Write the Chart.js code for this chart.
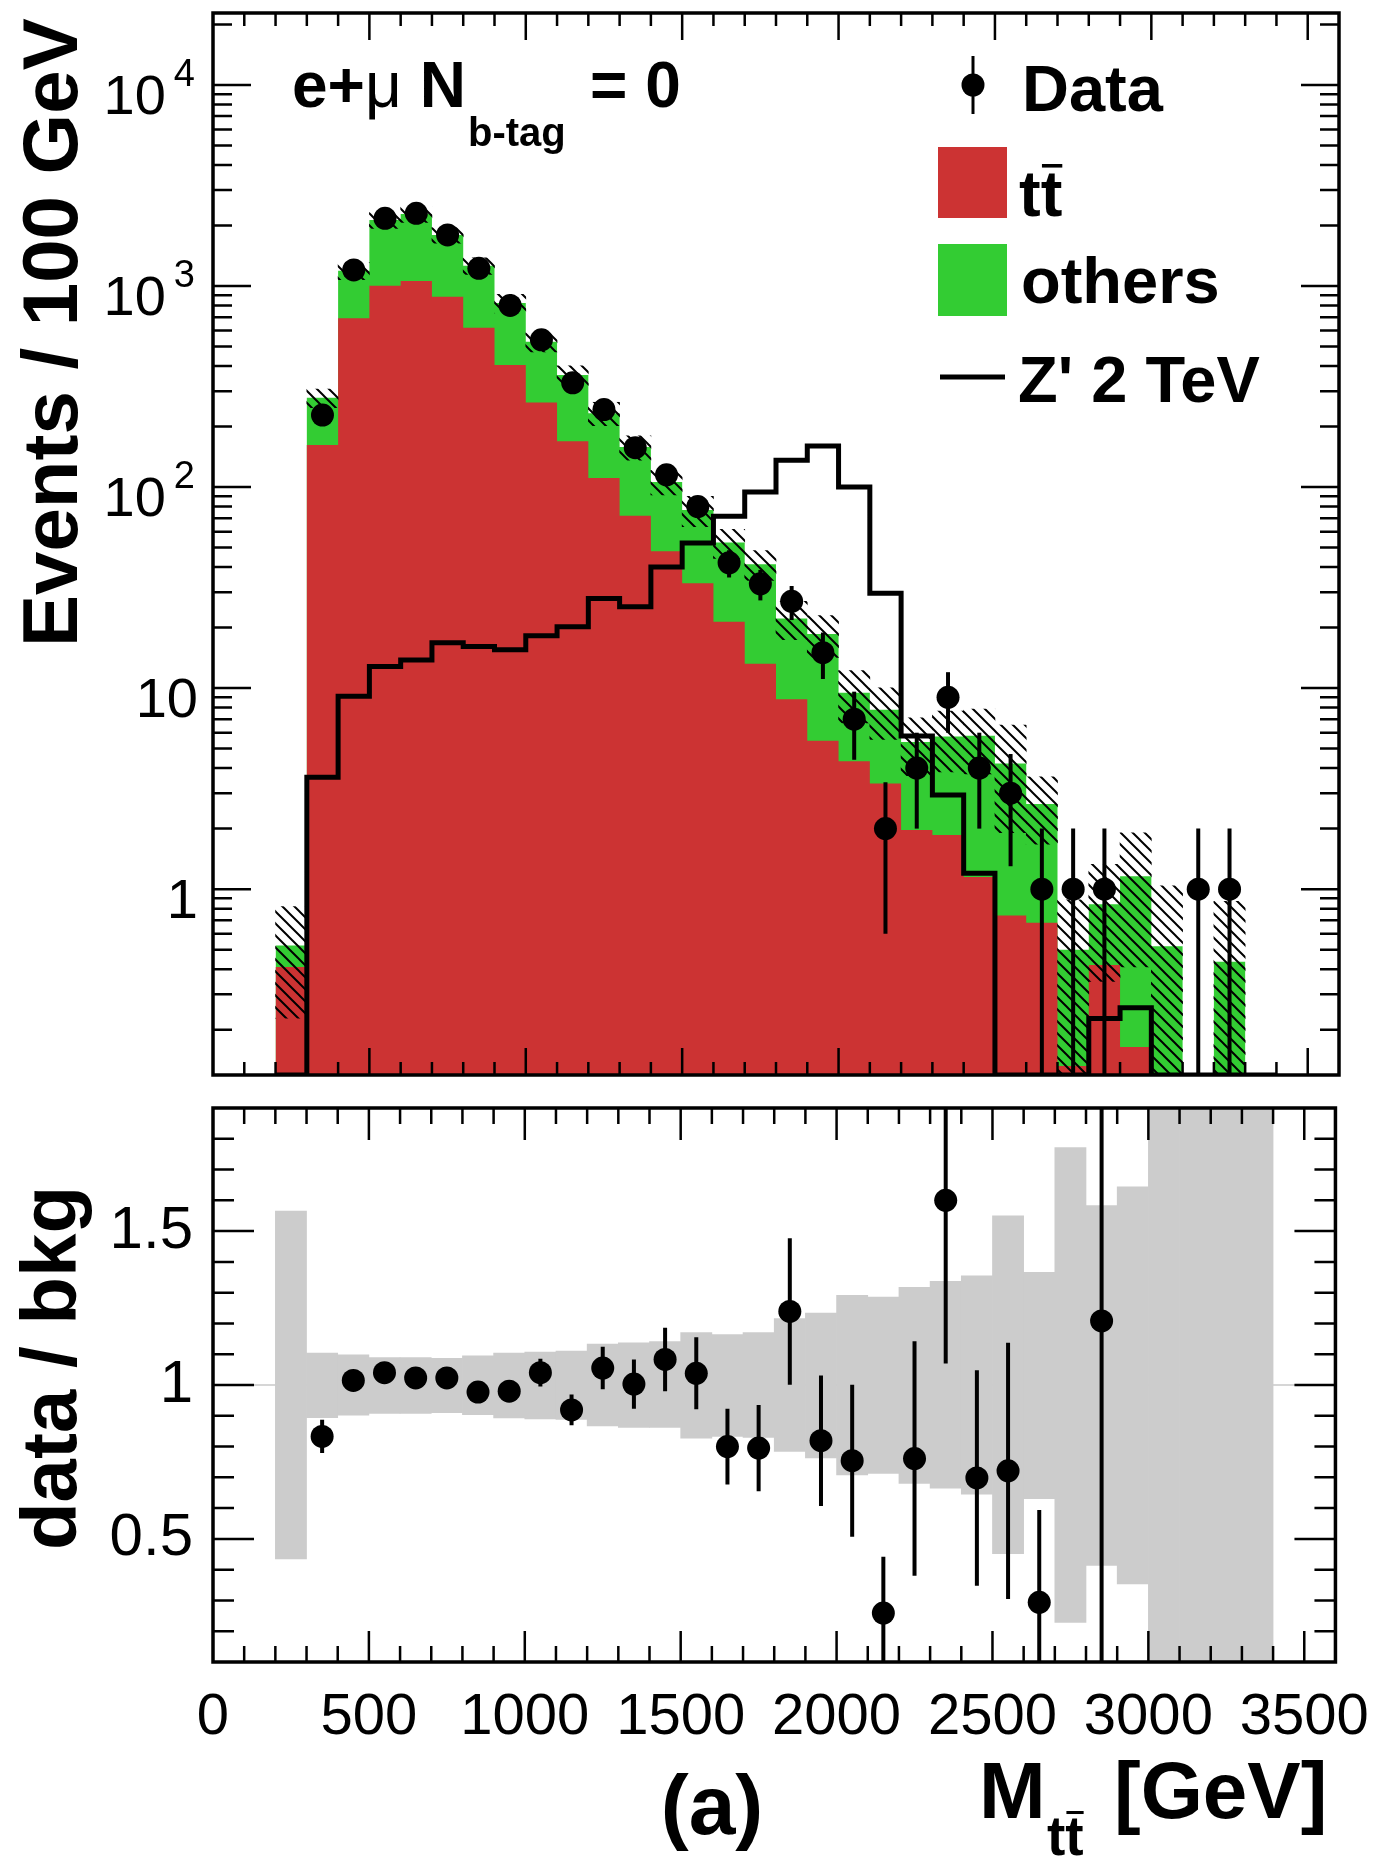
<!DOCTYPE html>
<html>
<head>
<meta charset="utf-8">
<title>Mtt e+mu Nb-tag = 0</title>
<script src="https://cdn.jsdelivr.net/npm/chart.js@4.4.1/dist/chart.umd.min.js"></script>
<style>
  html, body { margin: 0; padding: 0; background: #fff; }
  body { width: 1383px; height: 1861px; position: relative; overflow: hidden; }
  canvas { position: absolute; left: 0; }
  #topChart { top: 0; width: 1383px; height: 1090px; }
  #ratioChart { top: 1060px; width: 1383px; height: 801px; }
</style>
</head>
<body>
<canvas id="topChart" width="1383" height="1090"></canvas>
<canvas id="ratioChart" width="1383" height="801"></canvas>
<script>
const FONT = '"Liberation Sans", Arial, Helvetica, sans-serif';
const RED = '#cc3333', GREEN = '#33cc33', GREY = '#cccccc';

// bins: low edge in GeV, 100 GeV wide
const binLow = [200, 300, 400, 500, 600, 700, 800, 900, 1000, 1100,
                1200, 1300, 1400, 1500, 1600, 1700, 1800, 1900, 2000, 2100,
                2200, 2300, 2400, 2500, 2600, 2700, 2800, 2900, 3000, 3100,
                3200, 3300];
const binWidth = 100;

// events / 100 GeV
const ttbar = [0.41, 162, 691, 1003, 1059, 885, 620, 405, 263, 169,
               111, 72, 48, 33.2, 21.4, 13.2, 8.8, 5.47, 4.33, 3.35,
               1.97, 1.86, 1.15, 0.74, 0.68, 0.132, 0.42, 0.164, 0, 0,
               0, 0];
const bkgTotal = [0.524, 278, 1191, 2130, 2280, 1795, 1262, 823, 528, 361,
                  233, 158, 106, 76.9, 53, 41.3, 22.2, 18.6, 9.48, 7.8,
                  5.4, 5.75, 5.8, 4.22, 2.65, 0.5, 0.84, 1.16, 0.52, 0,
                  0.435, 0];
const zprime = [0, 3.6, 9.1, 12.8, 13.8, 16.8, 16.1, 15.5, 18.2, 20.2,
                27.9, 25.4, 40, 52.7, 71.5, 94.6, 136, 160, 100, 29.6,
                5.77, 2.94, 1.2, 0, 0, 0, 0.227, 0.257, 0, 0,
                0, 0];
const dataCounts = [0, 228, 1202, 2172, 2300, 1795, 1225, 800, 540, 330,
                    243, 157, 115, 80, 42, 33, 27, 15, 7, 2,
                    4, 9, 4, 3, 1, 1, 1, 0, 0, 1,
                    1, 0];
const dataErr = [0, 15, 35, 47, 48, 42, 35, 28, 23, 18,
                 15.6, 12.5, 10.7, 8.9, 6.5, 5.7, 5.2, 3.9, 2.6, 1.4,
                 2, 3, 2, 1.7, 1, 1, 1, 0, 0, 1,
                 1, 0];

// lower panel: data / bkg and relative bkg uncertainty
const ratio = [null, 0.833, 1.015, 1.04, 1.023, 1.023, 0.977, 0.98, 1.04, 0.919,
               1.055, 1.003, 1.083, 1.038, 0.80, 0.795, 1.239, 0.819, 0.754, 0.259,
               0.761, 1.60, 0.698, 0.721, 0.294, null, 1.208, null, null, null,
               null, null];
const ratioErr = [0, 0.054, 0.03, 0.023, 0.022, 0.025, 0.03, 0.035, 0.045, 0.05,
                  0.069, 0.08, 0.103, 0.117, 0.123, 0.14, 0.238, 0.212, 0.247, 0.183,
                  0.381, 0.53, 0.35, 0.416, 0.30, 0, 1.2, 0, 0, 0,
                  0, 0];
const bandHi = [1.565, 1.104, 1.098, 1.089, 1.089, 1.087, 1.095, 1.104, 1.107, 1.110,
                1.133, 1.137, 1.141, 1.170, 1.164, 1.170, 1.216, 1.234, 1.291, 1.286,
                1.317, 1.337, 1.355, 1.550, 1.366, 1.771, 1.583, 1.644, 2, 2,
                2, 2];
const bandLo = [0.435, 0.894, 0.902, 0.908, 0.908, 0.910, 0.904, 0.893, 0.890, 0.888,
                0.867, 0.862, 0.862, 0.827, 0.833, 0.830, 0.784, 0.763, 0.708, 0.713,
                0.680, 0.665, 0.645, 0.452, 0.631, 0.229, 0.414, 0.354, 0, 0,
                0, 0];

const xTickLabels = [0, 500, 1000, 1500, 2000, 2500, 3000, 3500];
const logTickLabels = [1, 10, 100, 1000, 10000];
const ratioTickLabels = [0.5, 1, 1.5];

const X_MIN = 0, X_MAX = 3600;
const Y_MIN = 0.119, Y_MAX = 22800;
const R_MIN = 0.1, R_MAX = 1.9;

Chart.defaults.font.family = FONT;
Chart.defaults.color = '#000';

const centres = binLow.map(x => x + binWidth / 2);

// histogram outline as stepped points; empty bins sit on the lower edge of the log axis
function stepPoints(values) {
  const pts = binLow.map((x, i) => ({ x, y: values[i] > 0 ? values[i] : Y_MIN }));
  pts.push({ x: binLow[binLow.length - 1] + binWidth, y: Y_MIN });
  return pts;
}
function pointsAt(values) {
  return centres.map((x, i) => ({ x, y: values[i] > 0 ? values[i] : null }));
}

function hatchPattern() {
  const c = document.createElement('canvas');
  c.width = c.height = 12;
  const g = c.getContext('2d');
  g.strokeStyle = '#000';
  g.lineWidth = 2;
  g.beginPath();
  g.moveTo(-2, -2); g.lineTo(14, 14);
  g.moveTo(-8, 4); g.lineTo(8, 20);
  g.moveTo(4, -8); g.lineTo(20, 8);
  g.stroke();
  return g.createPattern(c, 'repeat');
}

const hatchBand = centres.map((x, i) => ({
  x,
  y: [Math.max(bkgTotal[i] * bandLo[i], Y_MIN), Math.max(bkgTotal[i] * bandHi[i], Y_MIN)]
}));
const ratioBand = centres.map((x, i) => ({ x, y: [bandLo[i], bandHi[i]] }));

const B = n => `bold ${n}px ${FONT}`;
const R = n => `${n}px ${FONT}`;

function txt(ctx, s, x, y, font, align) {
  ctx.font = font;
  ctx.textAlign = align || 'left';
  ctx.fillText(s, x, y);
  return ctx.measureText(s).width;
}

function overlinedT(ctx, x, y, size) {
  const w = txt(ctx, 't', x, y, B(size));
  ctx.fillRect(x + 0.02 * size, y - 0.8 * size, w - 0.02 * size, 0.055 * size);
  return w;
}

function drawErrorBars(chart, values, errs) {
  const { ctx, chartArea: a, scales: { x, y } } = chart;
  ctx.save();
  ctx.beginPath();
  ctx.rect(a.left, a.top, a.width, a.height);
  ctx.clip();
  ctx.strokeStyle = '#000';
  ctx.lineWidth = 4;
  centres.forEach((c, i) => {
    const v = values[i];
    if (v == null || v <= 0) return;
    const px = x.getPixelForValue(c);
    const top = y.getPixelForValue(v + errs[i]);
    const lo = v - errs[i];
    const bot = lo > 0 ? y.getPixelForValue(lo) : a.bottom;
    ctx.beginPath();
    ctx.moveTo(px, top);
    ctx.lineTo(px, bot);
    ctx.stroke();
  });
  ctx.restore();
}

function seg(ctx, x1, y1, x2, y2) { ctx.moveTo(x1, y1); ctx.lineTo(x2, y2); }

const topDecor = {
  id: 'topDecor',
  beforeDatasetDraw(chart, args) {
    if (chart.data.datasets[args.index].label === 'Data') drawErrorBars(chart, dataCounts, dataErr);
  },
  afterDraw(chart) {
    const { ctx, chartArea: a, scales: { x, y } } = chart;
    ctx.save();
    ctx.strokeStyle = '#000';
    ctx.fillStyle = '#000';

    // ticks on all four sides, pointing in
    ctx.lineWidth = 2.5;
    ctx.beginPath();
    for (let v = 100; v < X_MAX; v += 100) {
      const px = x.getPixelForValue(v);
      const len = v % 500 === 0 ? 27 : 13;
      seg(ctx, px, a.top, px, a.top + len);
      seg(ctx, px, a.bottom, px, a.bottom - len);
    }
    for (let e = -1; e <= 4; e++) {
      for (let m = 1; m <= 9; m++) {
        const v = m * Math.pow(10, e);
        if (v <= Y_MIN || v >= Y_MAX) continue;
        const py = y.getPixelForValue(v);
        const len = m === 1 ? 38 : 19;
        seg(ctx, a.left, py, a.left + len, py);
        seg(ctx, a.right, py, a.right - len, py);
      }
    }
    ctx.stroke();
    ctx.lineWidth = 3.5;
    ctx.strokeRect(a.left, a.top, a.width, a.height);

    // y tick labels with exponents
    ctx.textBaseline = 'alphabetic';
    logTickLabels.forEach(v => {
      const py = y.getPixelForValue(v) + 29;
      const exp = Math.round(Math.log10(v));
      if (exp < 2) {
        txt(ctx, String(v), 198, py, R(56), 'right');
      } else {
        const w = txt(ctx, String(exp), 195, py - 28, R(38), 'right');
        txt(ctx, '10', 195 - w - 8, py, R(56), 'right');
      }
    });

    // y title
    ctx.save();
    ctx.translate(77, 647);
    ctx.rotate(-Math.PI / 2);
    txt(ctx, 'Events / 100 GeV', 0, 0, B(78));
    ctx.restore();

    // channel label
    let x0 = 292;
    x0 += txt(ctx, 'e+', x0, 107, B(64));
    x0 += txt(ctx, 'μ', x0, 107, R(64));
    txt(ctx, ' N', x0, 107, B(64));
    txt(ctx, 'b-tag', 468, 146, B(40));
    txt(ctx, '= 0', 590, 107, B(64));

    // legend
    ctx.lineWidth = 3;
    ctx.beginPath();
    seg(ctx, 973, 56, 973, 114);
    ctx.stroke();
    ctx.beginPath();
    ctx.arc(973, 85, 11.5, 0, Math.PI * 2);
    ctx.fill();
    txt(ctx, 'Data', 1022, 111, B(65));

    ctx.fillStyle = RED;
    ctx.fillRect(938, 147, 69, 71);
    ctx.fillStyle = '#000';
    const wt = txt(ctx, 't', 1019, 216, B(65));
    overlinedT(ctx, 1019 + wt, 216, 65);

    ctx.fillStyle = GREEN;
    ctx.fillRect(938, 244, 69, 72);
    ctx.fillStyle = '#000';
    txt(ctx, 'others', 1021, 303, B(65));

    ctx.lineWidth = 5;
    ctx.beginPath();
    seg(ctx, 940, 377, 1005, 377);
    ctx.stroke();
    txt(ctx, "Z' 2 TeV", 1018, 402, B(65));

    ctx.restore();
  }
};

const ratioDecor = {
  id: 'ratioDecor',
  beforeDatasetsDraw(chart) {
    const { ctx, chartArea: a, scales: { y } } = chart;
    const py = y.getPixelForValue(1);
    ctx.save();
    ctx.strokeStyle = '#c8c8c8';
    ctx.lineWidth = 1.5;
    ctx.beginPath();
    seg(ctx, a.left, py, a.right, py);
    ctx.stroke();
    ctx.restore();
  },
  beforeDatasetDraw(chart, args) {
    if (chart.data.datasets[args.index].label === 'data/bkg') drawErrorBars(chart, ratio, ratioErr);
  },
  afterDraw(chart) {
    const { ctx, chartArea: a, scales: { x, y } } = chart;
    ctx.save();
    ctx.strokeStyle = '#000';
    ctx.fillStyle = '#000';
    ctx.lineWidth = 2.5;
    ctx.beginPath();
    for (let v = 100; v < X_MAX; v += 100) {
      const px = x.getPixelForValue(v);
      const major = v % 500 === 0;
      seg(ctx, px, a.top, px, a.top + (major ? 32 : 16));
      seg(ctx, px, a.bottom, px, a.bottom - (major ? 31 : 16));
    }
    for (let k = 2; k <= 18; k++) {
      const py = y.getPixelForValue(k / 10);
      const len = k % 5 === 0 ? 41 : 21;
      seg(ctx, a.left, py, a.left + len, py);
      seg(ctx, a.right, py, a.right - len, py);
    }
    ctx.stroke();
    ctx.lineWidth = 3.5;
    ctx.strokeRect(a.left, a.top, a.width, a.height);

    ctx.textBaseline = 'alphabetic';
    ctx.save();
    ctx.translate(76, 308);
    ctx.rotate(-Math.PI / 2);
    txt(ctx, 'data / bkg', 0, 0, B(78), 'center');
    ctx.restore();

    // x title  M_tt [GeV]
    let xm = 979;
    txt(ctx, 'M', xm, 758, B(80));
    xm = 1047;
    xm += txt(ctx, 't', xm, 795, B(55));
    overlinedT(ctx, xm, 795, 55);
    txt(ctx, '[GeV]', 1114, 758, B(80));

    txt(ctx, '(a)', 712, 774, B(84), 'center');
    ctx.restore();
  }
};

new Chart(document.getElementById('topChart'), {
  type: 'line',
  data: {
    datasets: [
      { type: 'line', label: 'Data', data: pointsAt(dataCounts), showLine: false,
        pointRadius: 11.5, pointHoverRadius: 11.5, pointBackgroundColor: '#000', pointBorderWidth: 0, order: 0 },
      { type: 'line', label: "Z' 2 TeV", data: stepPoints(zprime), stepped: true,
        borderColor: '#000', borderWidth: 5, pointRadius: 0, fill: false, order: 1 },
      { type: 'bar', label: 'bkg uncertainty', data: hatchBand, backgroundColor: hatchPattern(),
        borderWidth: 0, grouped: false, barPercentage: 1, categoryPercentage: 1, clip: 0, order: 2 },
      { type: 'line', label: 'ttbar', data: stepPoints(ttbar), stepped: true,
        borderColor: 'rgba(0,0,0,0)', borderWidth: 0, pointRadius: 0, fill: 'start', backgroundColor: RED, order: 3 },
      { type: 'line', label: 'others', data: stepPoints(bkgTotal), stepped: true,
        borderColor: 'rgba(0,0,0,0)', borderWidth: 0, pointRadius: 0, fill: 'start', backgroundColor: GREEN, order: 4 }
    ]
  },
  options: {
    responsive: false,
    animation: false,
    events: [],
    layout: { padding: { left: 213, right: 44, top: 13, bottom: 15 } },
    plugins: { legend: { display: false }, tooltip: { enabled: false } },
    scales: {
      x: { type: 'linear', min: X_MIN, max: X_MAX, display: false, offset: false,
           grid: { offset: false }, ticks: { stepSize: 500 } },
      y: { type: 'logarithmic', min: Y_MIN, max: Y_MAX, display: false }
    }
  },
  plugins: [topDecor]
});

new Chart(document.getElementById('ratioChart'), {
  type: 'line',
  data: {
    datasets: [
      { type: 'line', label: 'data/bkg', data: pointsAt(ratio), showLine: false,
        pointRadius: 11.5, pointHoverRadius: 11.5, pointBackgroundColor: '#000', pointBorderWidth: 0, order: 0 },
      { type: 'bar', label: 'bkg uncertainty', data: ratioBand, backgroundColor: GREY,
        borderWidth: 0, grouped: false, barPercentage: 1, categoryPercentage: 1, clip: 0, order: 1 }
    ]
  },
  options: {
    responsive: false,
    animation: false,
    events: [],
    layout: { padding: { left: 0, right: 44, top: 15, bottom: 0 } },
    plugins: { legend: { display: false }, tooltip: { enabled: false } },
    scales: {
      x: {
        type: 'linear', min: X_MIN, max: X_MAX, offset: false,
        grid: { display: false, offset: false }, border: { display: false },
        afterBuildTicks: s => { s.ticks = xTickLabels.map(v => ({ value: v })); },
        ticks: { font: { size: 58 }, color: '#000', padding: 13, maxRotation: 0, autoSkip: false,
                 callback: v => String(v) },
        afterFit: s => { s.height = 199; }
      },
      y: {
        type: 'linear', min: R_MIN, max: R_MAX,
        grid: { display: false }, border: { display: false },
        afterBuildTicks: s => { s.ticks = ratioTickLabels.map(v => ({ value: v })); },
        ticks: { font: { size: 60 }, color: '#000', padding: 12, callback: v => String(v) },
        afterFit: s => { s.width = 213; }
      }
    }
  },
  plugins: [ratioDecor]
});
</script>
</body>
</html>
